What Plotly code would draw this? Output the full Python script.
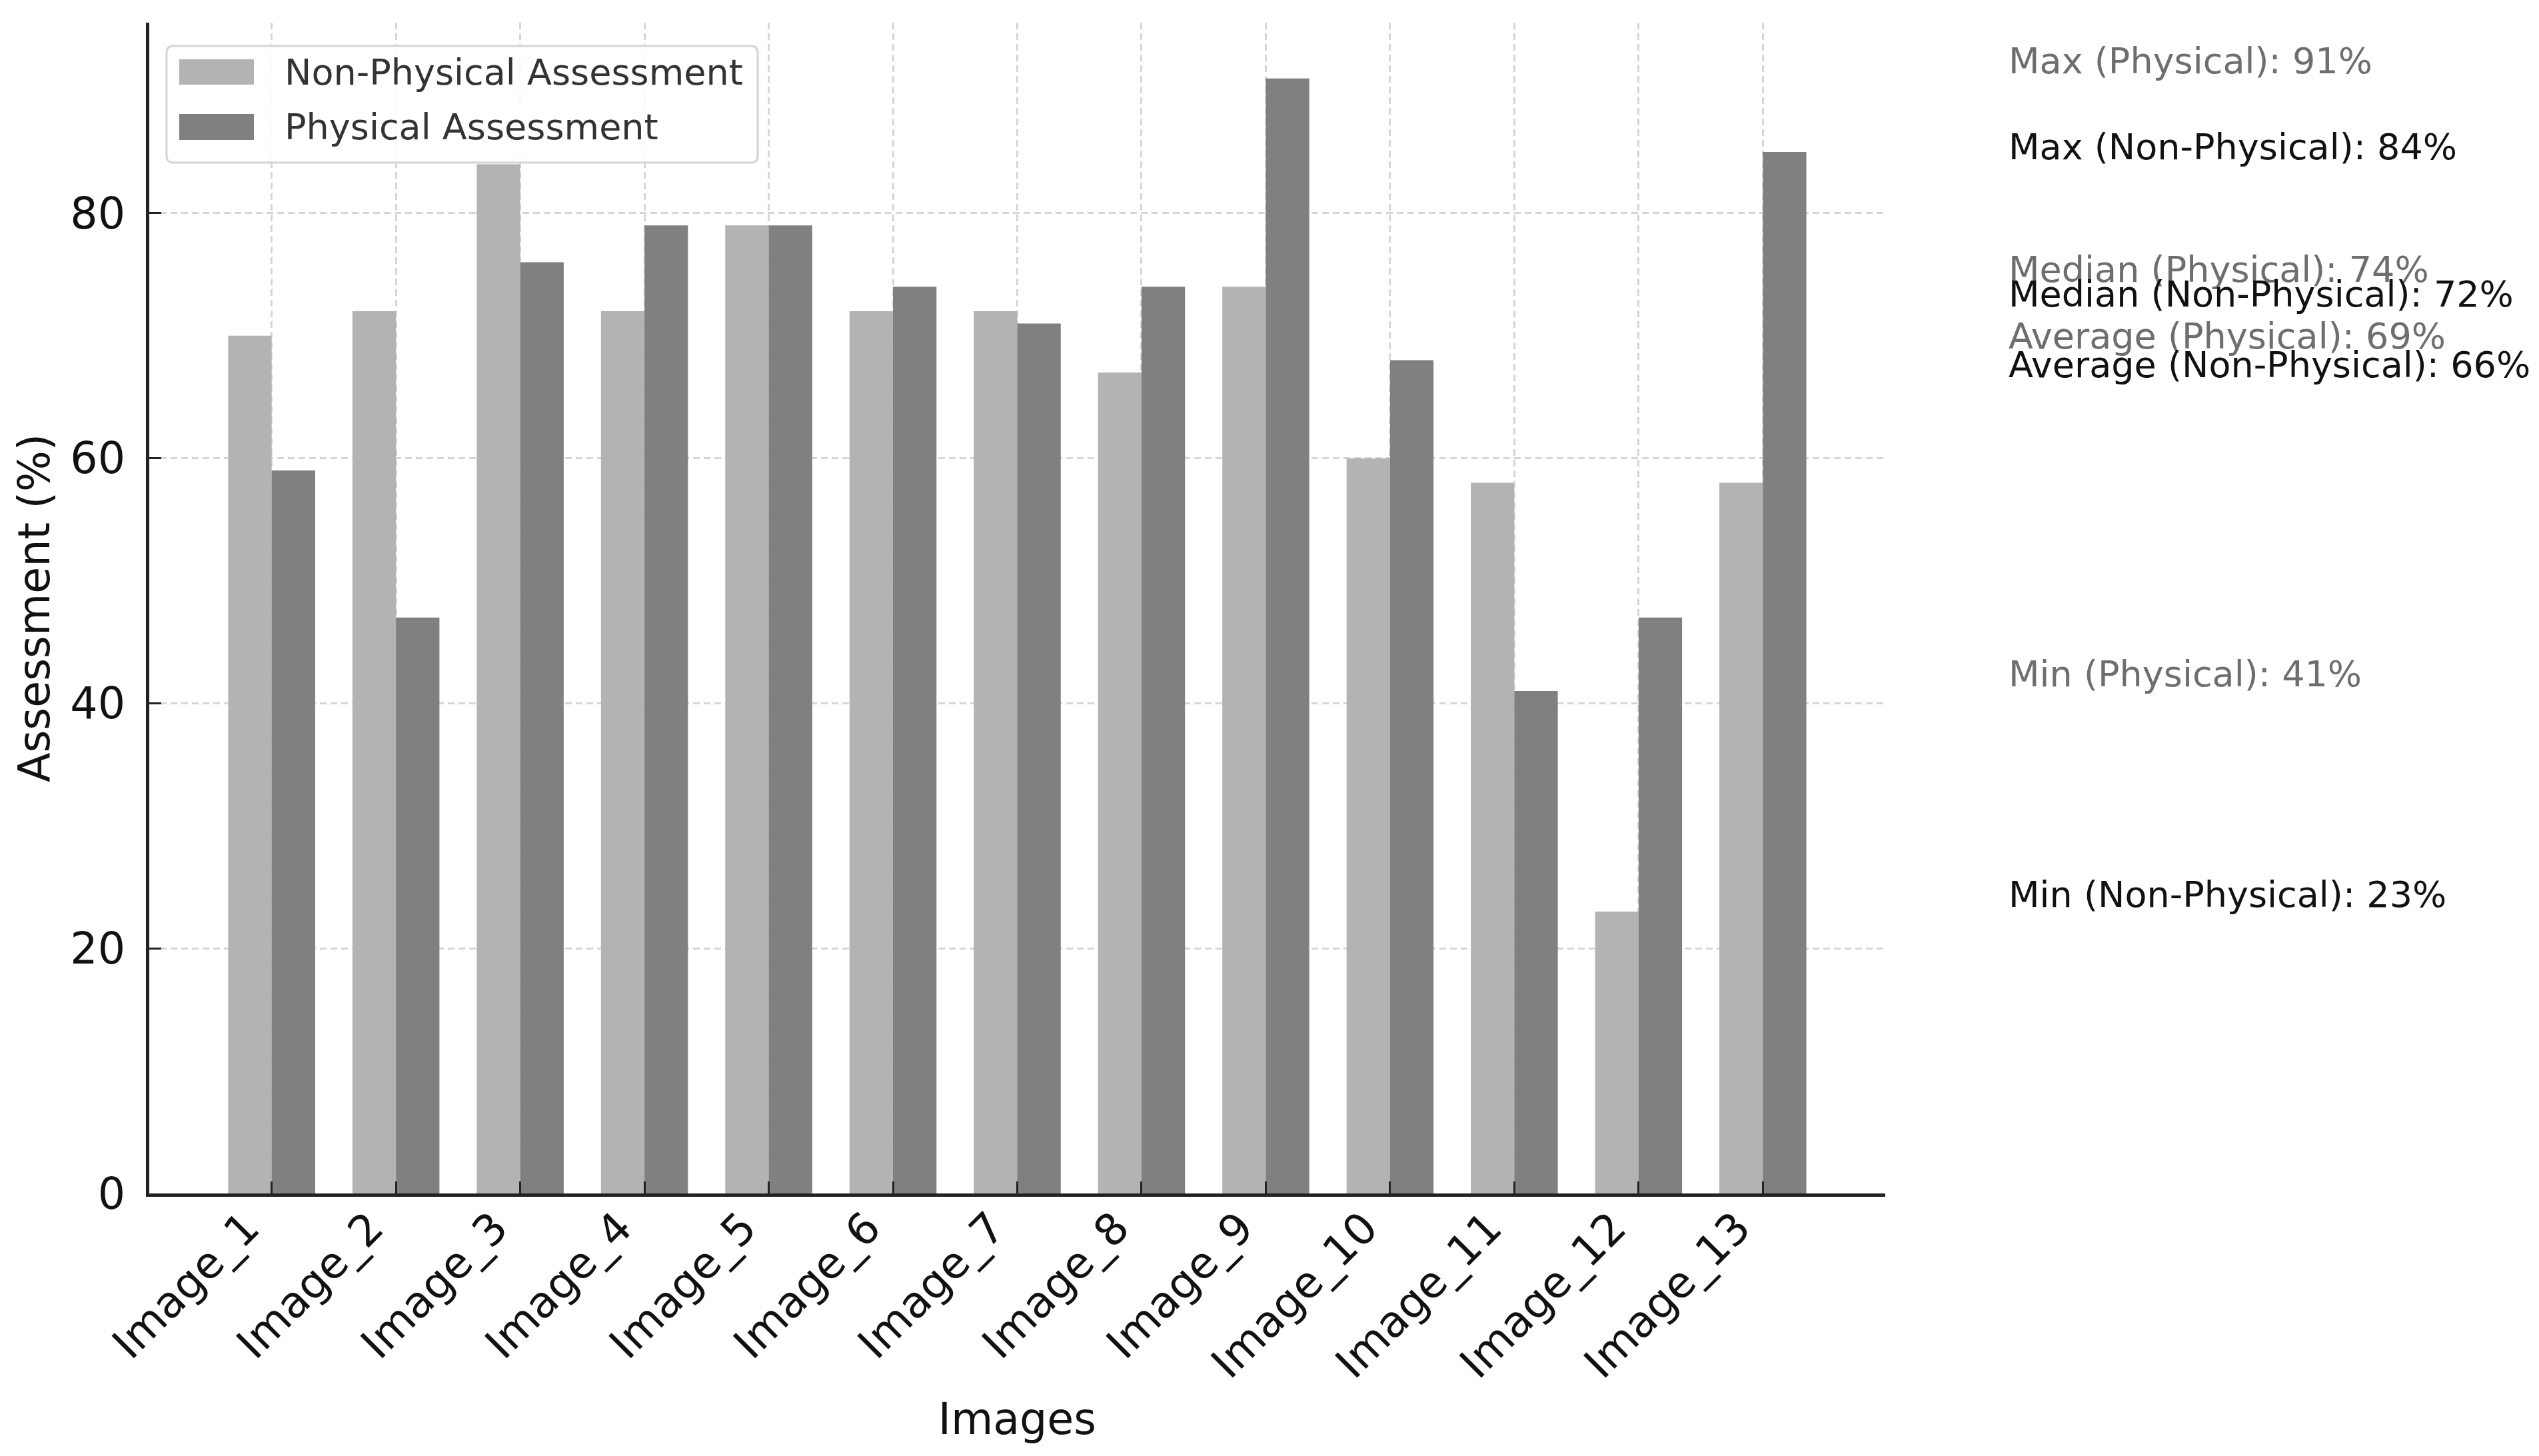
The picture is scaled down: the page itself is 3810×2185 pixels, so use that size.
import numpy as np
import plotly.graph_objects as go

categories = ["Image_1", "Image_2", "Image_3", "Image_4", "Image_5", "Image_6", "Image_7",
              "Image_8", "Image_9", "Image_10", "Image_11", "Image_12", "Image_13"]
non_physical = [70, 72, 84, 72, 79, 72, 72, 67, 74, 60, 58, 23, 58]
physical = [59, 47, 76, 79, 79, 74, 71, 74, 91, 68, 41, 47, 85]
y_ticks = [0, 20, 40, 60, 80]

NP_COLOR = "#b3b3b3"
P_COLOR = "#808080"
P_TEXT = "#6e6e6e"
NP_TEXT = "#111111"
FONT = "DejaVu Sans"

W, H = 3810, 2185
L, R, T, B = 216, 2821, 26, 1783

idx = list(range(len(categories)))
ymax = max(max(non_physical), max(physical)) * 1.05
n = len(categories)
xr = [-0.35 - 0.05 * (n - 1 + 0.7), n - 1 + 0.35 + 0.05 * (n - 1 + 0.7)]

fig = go.Figure()
fig.add_trace(go.Bar(x=idx, y=non_physical, name="Non-Physical Assessment",
                     marker=dict(color=NP_COLOR, line=dict(width=0))))
fig.add_trace(go.Bar(x=idx, y=physical, name="Physical Assessment",
                     marker=dict(color=P_COLOR, line=dict(width=0))))

# statistics text (placed at data x = n + 1, converted to paper since it lies outside the x range)
text_x_paper = (n + 1 - xr[0]) / (xr[1] - xr[0])
stats = [
    ("Max (Physical)", max(physical), P_TEXT),
    ("Max (Non-Physical)", max(non_physical), NP_TEXT),
    ("Median (Physical)", float(np.median(physical)), P_TEXT),
    ("Median (Non-Physical)", float(np.median(non_physical)), NP_TEXT),
    ("Average (Physical)", float(np.mean(physical)), P_TEXT),
    ("Average (Non-Physical)", float(np.mean(non_physical)), NP_TEXT),
    ("Min (Physical)", min(physical), P_TEXT),
    ("Min (Non-Physical)", min(non_physical), NP_TEXT),
]
for label, val, col in stats:
    fig.add_annotation(x=text_x_paper, y=val, xref="paper", yref="y", text=f"{label}: {val:.0f}%",
                       showarrow=False, xanchor="left", yanchor="middle", yshift=26, xshift=-6,
                       font=dict(family=FONT, size=54, color=col))

# legend (custom, matplotlib-like)
pw, ph = R - L, B - T
def px(xp):
    return (xp - L) / pw
def py(yp):
    return (B - yp) / ph

bx0, bx1, by0, by1 = 242, 1129, 61, 236
rr = 10
path = (f"M {px(bx0+rr)},{py(by0)} L {px(bx1-rr)},{py(by0)} Q {px(bx1)},{py(by0)} {px(bx1)},{py(by0+rr)} "
        f"L {px(bx1)},{py(by1-rr)} Q {px(bx1)},{py(by1)} {px(bx1-rr)},{py(by1)} "
        f"L {px(bx0+rr)},{py(by1)} Q {px(bx0)},{py(by1)} {px(bx0)},{py(by1-rr)} "
        f"L {px(bx0)},{py(by0+rr)} Q {px(bx0)},{py(by0)} {px(bx0+rr)},{py(by0)} Z")
fig.add_shape(type="path", path=path, xref="paper", yref="paper",
              fillcolor="rgba(255,255,255,0.85)", line=dict(color="#d4d4d4", width=3), layer="above")
legend_items = [("Non-Physical Assessment", NP_COLOR, 81, 119), ("Physical Assessment", P_COLOR, 163, 202)]
for name, col, y0, y1 in legend_items:
    fig.add_shape(type="rect", xref="paper", yref="paper", x0=px(261), x1=px(373),
                  y0=py(y1), y1=py(y0), fillcolor=col, line=dict(width=0), layer="above")
    fig.add_annotation(x=px(417), y=py((y0 + y1) / 2), xref="paper", yref="paper", text=name,
                       showarrow=False, xanchor="left", yanchor="middle",
                       font=dict(family=FONT, size=54, color="#333333"))

grid = dict(showgrid=True, gridcolor="#d6d6d6", gridwidth=3, griddash="10px,6px")
fig.update_xaxes(range=xr, tickmode="array", tickvals=idx, ticktext=categories, tickangle=-45,
                 ticks="inside", ticklen=18, tickwidth=3, tickcolor="#222222",
                 showline=True, linecolor="#222222", linewidth=5, zeroline=False,
                 tickfont=dict(family=FONT, size=65, color="#111111"),
                 title=dict(text="Images", font=dict(family=FONT, size=65, color="#111111"), standoff=26),
                 ticklabelstandoff=-18, ticklabelshift=-38, **grid)
fig.update_yaxes(range=[0, ymax], tickmode="array", tickvals=y_ticks, ticktext=[str(v) for v in y_ticks],
                 ticks="inside", ticklen=18, tickwidth=3, tickcolor="#222222",
                 showline=True, linecolor="#222222", linewidth=5, zeroline=False,
                 tickfont=dict(family=FONT, size=65, color="#111111"),
                 title=dict(text="Assessment (%)", font=dict(family=FONT, size=65, color="#111111"), standoff=11),
                 ticklabelstandoff=18, **grid)

fig.update_layout(width=W, height=H, barmode="group", bargap=0.3, bargroupgap=0,
                  showlegend=False, plot_bgcolor="white", paper_bgcolor="white",
                  margin=dict(l=L, r=W - R, t=T, b=H - B, autoexpand=False),
                  font=dict(family=FONT))

fig.write_html("out.html")
